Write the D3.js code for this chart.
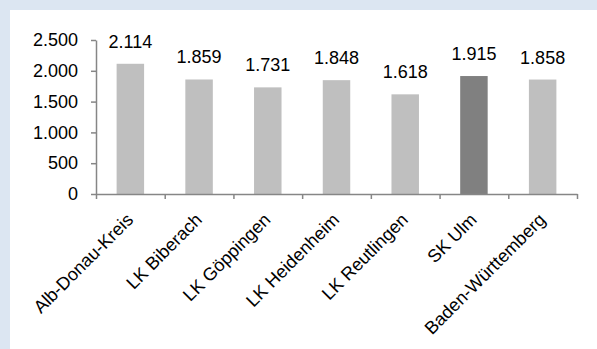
<!DOCTYPE html>
<html>
<head>
<meta charset="utf-8">
<script src="https://cdn.jsdelivr.net/npm/d3@7"></script>
<style>
  html, body { margin: 0; padding: 0; background: #dce6f2; }
  svg { display: block; }
  text { font-family: Arial, "Liberation Sans", sans-serif; }
</style>
</head>
<body>
<svg id="chart" width="597" height="349"></svg>
<script>
// Regions and their values
const categories = ["Alb-Donau-Kreis", "LK Biberach", "LK Göppingen", "LK Heidenheim", "LK Reutlingen", "SK Ulm", "Baden-Württemberg"];
const values = [2114, 1859, 1731, 1848, 1618, 1915, 1858];
const highlighted = ["SK Ulm"];
const yTicks = [0, 500, 1000, 1500, 2000, 2500];

const de = d3.formatLocale({ decimal: ",", thousands: ".", grouping: [3], currency: ["", " €"] });
const fmt = de.format(",d");

const svg = d3.select("#chart");
const W = 597, H = 349;

// white panel on the light blue frame
svg.append("rect").attr("x", 10).attr("y", 10).attr("width", W - 10).attr("height", H - 10).attr("fill", "#ffffff");

const plotLeft = 96, plotRight = 577, plotTop = 40, plotBottom = 194;

const x = d3.scaleBand().domain(categories).range([plotLeft, plotRight]).paddingInner(0.6).paddingOuter(0.3);
const y = d3.scaleLinear().domain([0, 2500]).range([plotBottom, plotTop]);
const axisColor = "#868686";

// bars
svg.append("g").selectAll("rect")
  .data(categories)
  .join("rect")
  .attr("x", d => x(d))
  .attr("y", (d, i) => y(values[i]))
  .attr("width", x.bandwidth())
  .attr("height", (d, i) => y(0) - y(values[i]))
  .attr("fill", d => highlighted.includes(d) ? "#808080" : "#bfbfbf");

// value labels
svg.append("g").selectAll("text")
  .data(categories)
  .join("text")
  .attr("x", d => x(d) + x.bandwidth() / 2)
  .attr("y", (d, i) => y(values[i]) - 16)
  .attr("text-anchor", "middle")
  .attr("font-size", 18)
  .attr("fill", "#000")
  .text((d, i) => fmt(values[i]));

// y axis
const yAxis = svg.append("g")
  .attr("transform", `translate(${plotLeft},0)`)
  .call(d3.axisLeft(y).tickValues(yTicks).tickSize(5).tickSizeOuter(0).tickPadding(13).tickFormat(fmt));
yAxis.selectAll("path, line").attr("stroke", axisColor).attr("stroke-width", 1.5);
yAxis.selectAll("text").attr("font-size", 18).attr("fill", "#000").attr("font-family", "Arial, 'Liberation Sans', sans-serif");

// x axis with ticks on category boundaries
const xb = d3.scaleLinear().domain([0, categories.length]).range([plotLeft, plotRight]);
const xAxis = svg.append("g")
  .attr("transform", `translate(0,${plotBottom})`)
  .call(d3.axisBottom(xb).tickValues(d3.range(categories.length + 1)).tickSize(5).tickSizeOuter(0).tickFormat(""));
xAxis.selectAll("path, line").attr("stroke", axisColor).attr("stroke-width", 1.5);

// rotated category labels
svg.append("g").selectAll("text")
  .data(categories)
  .join("text")
  .attr("transform", d => `translate(${x(d) + x.bandwidth() / 2 - 5},${plotBottom + 18}) rotate(-45)`)
  .attr("text-anchor", "end")
  .attr("dy", "0.7em")
  .attr("font-size", 18)
  .attr("fill", "#000")
  .text(d => d);
</script>
</body>
</html>
